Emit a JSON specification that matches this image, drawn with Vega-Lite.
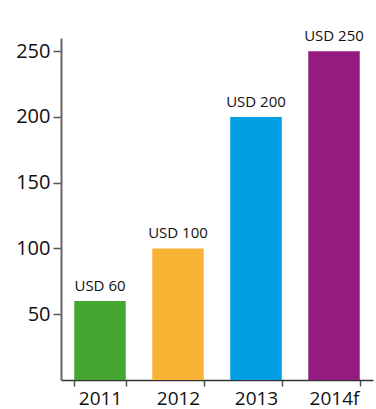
{
  "$schema": "https://vega.github.io/schema/vega-lite/v6.json",
  "width": 312,
  "height": 342,
  "autosize": {"type": "none"},
  "padding": {"left": 61, "top": 38, "right": 3, "bottom": 29},
  "background": "white",
  "config": {
    "view": {"stroke": null},
    "font": "Open Sans"
  },
  "data": {
    "values": [
      {"year": "2011", "value": 60, "label": "USD 60", "color": "#45a62f"},
      {"year": "2012", "value": 100, "label": "USD 100", "color": "#f8b334"},
      {"year": "2013", "value": 200, "label": "USD 200", "color": "#009fe3"},
      {"year": "2014f", "value": 250, "label": "USD 250", "color": "#951b81"}
    ]
  },
  "encoding": {
    "x": {
      "field": "year",
      "type": "nominal",
      "sort": null,
      "scale": {"paddingInner": 0.34, "paddingOuter": 0.17},
      "axis": {
        "title": null,
        "labelAngle": 0,
        "labelFontSize": 19,
        "labelColor": "#111",
        "labelPadding": 3,
        "tickBand": "extent",
        "tickSize": 6,
        "tickColor": "#555",
        "tickWidth": 1.5,
        "domainColor": "#333",
        "domainWidth": 1.5
      }
    },
    "y": {
      "field": "value",
      "type": "quantitative",
      "scale": {"domain": [0, 260], "nice": false},
      "axis": {
        "title": null,
        "values": [50, 100, 150, 200, 250],
        "grid": false,
        "labelFontSize": 20,
        "labelColor": "#111",
        "labelPadding": 3,
        "tickSize": 8,
        "tickColor": "#555",
        "tickWidth": 1.5,
        "domainColor": "#666",
        "domainWidth": 2
      }
    }
  },
  "layer": [
    {
      "mark": {"type": "bar"},
      "encoding": {
        "color": {"field": "color", "type": "nominal", "scale": null}
      }
    },
    {
      "mark": {"type": "text", "baseline": "bottom", "dy": -7, "fontSize": 15, "color": "#111"},
      "encoding": {
        "text": {"field": "label"}
      }
    }
  ]
}
